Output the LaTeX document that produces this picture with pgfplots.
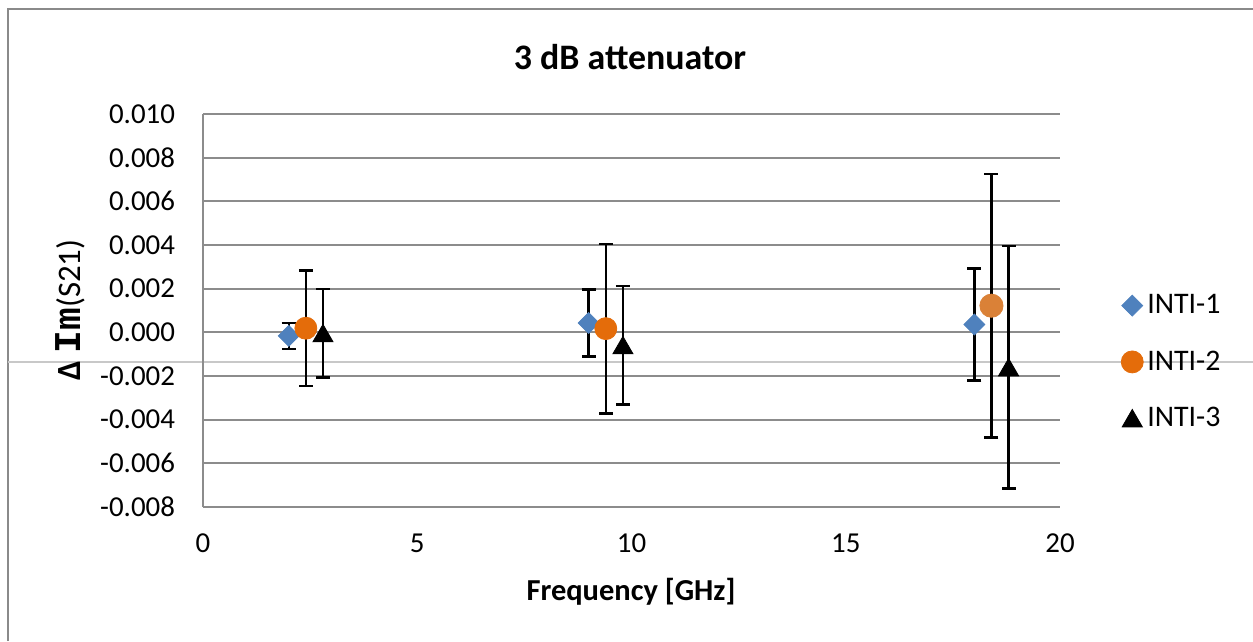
\documentclass[border=0pt]{standalone}
\usepackage{fontspec}
\setmainfont{Carlito}
\newfontfamily\monob{Liberation Mono}
\usepackage{pgfplots}
\pgfplotsset{compat=1.18}
\definecolor{inti1}{HTML}{4F81BD}
\definecolor{inti2}{HTML}{E46C0A}
\definecolor{inti2b}{HTML}{DA8137}
\definecolor{gridc}{HTML}{8C8C8C}
\definecolor{framec}{HTML}{8A8A8A}
\definecolor{strayc}{HTML}{C8C8C8}

\pgfplotstableread{
x y e
2 -0.00016 0.0006
9 0.00043 0.00154
18 0.00036 0.00257
}\intione
\pgfplotstableread{
x y e
2.4 0.00019 0.00264
9.4 0.00017 0.00388
}\intitwo
\pgfplotstableread{
x y e
18.4 0.00122 0.00603
}\intitwob
\pgfplotstableread{
x y e
2.8 -0.00004 0.00202
9.8 -0.00059 0.00271
18.8 -0.0016 0.00555
}\intithree

\begin{document}
\begin{tikzpicture}[x=1bp,y=1bp]
\path[use as bounding box] (0,0) rectangle (626.5,320.5);
\draw[framec, line width=1.2bp] (4,0) -- (4,316) -- (626.5,316);
\draw[strayc, line width=0.6bp] (4,139.5) -- (626.5,139.5);
\begin{axis}[
  at={(101.5bp,67bp)}, anchor=south west,
  scale only axis, width=428.5bp, height=196.5bp,
  xmin=0, xmax=20, ymin=-0.008, ymax=0.010,
  scaled y ticks=false, scaled x ticks=false,
  axis lines=left, axis line style={-, gridc, line width=1bp},
  xtick={0,5,10,15,20}, xticklabels={0,5,10,15,20},
  ytick={-0.008,-0.006,-0.004,-0.002,0,0.002,0.004,0.006,0.008,0.010},
  yticklabels={-0.008,-0.006,-0.004,-0.002,0.000,0.002,0.004,0.006,0.008,0.010},
  ymajorgrids, grid style={gridc, line width=1bp},
  major tick length=0pt,
  tick label style={font=\fontsize{14.5}{17}\selectfont},
  yticklabel style={xshift=-10.5bp},
  xticklabel style={yshift=-10bp},
  only marks,
  legend image code/.code={\draw[mark repeat=2,mark phase=2,#1] plot coordinates {(0bp,0bp)(5bp,0bp)(10bp,0bp)};},
  error bars/y dir=both, error bars/y explicit,
  error bars/error bar style={black, line width=1.2bp},
  error bars/error mark options={rotate=90, black, mark size=3.5bp, line width=1.2bp},
  legend style={at={(1.071,0.369)}, anchor=west, draw=none, fill=none,
    font=\fontsize{15}{18}\selectfont, row sep=13bp, inner sep=0pt, cells={anchor=west}},
  clip=false,
]
\addplot[mark=square*, mark size=3.7bp, mark options={rotate=45, fill=inti1, draw=inti1}]
  table[x=x, y=y, y error=e] {\intione};
\addlegendentry{INTI-1}
\addplot[mark=*, mark size=5.5bp, mark options={fill=inti2, draw=inti2}]
  table[x=x, y=y, y error=e] {\intitwo};
\addlegendentry{INTI-2}
\addplot[forget plot, mark=*, mark size=5.8bp, mark options={fill=inti2b, draw=inti2b}]
  table[x=x, y=y, y error=e] {\intitwob};
\addplot[mark=triangle*, mark size=5.8bp, mark options={fill=black, draw=black, yshift=-1.4bp}]
  table[x=x, y=y, y error=e] {\intithree};
\addlegendentry{INTI-3}
\end{axis}
\node[font=\bfseries\fontsize{18}{21}\selectfont] at (315,292) {3 dB attenuator};
\node[font=\bfseries\fontsize{15.3}{18}\selectfont] at (315.5,24.5) {Frequency [GHz]};
\node[rotate=90] at (35,165.5) {{\bfseries\fontsize{17}{20}\selectfont Δ {\monob\bfseries\fontsize{19}{22}\selectfont Im}}{\fontsize{16.5}{19}\selectfont(S21)}};
\end{tikzpicture}
\end{document}
